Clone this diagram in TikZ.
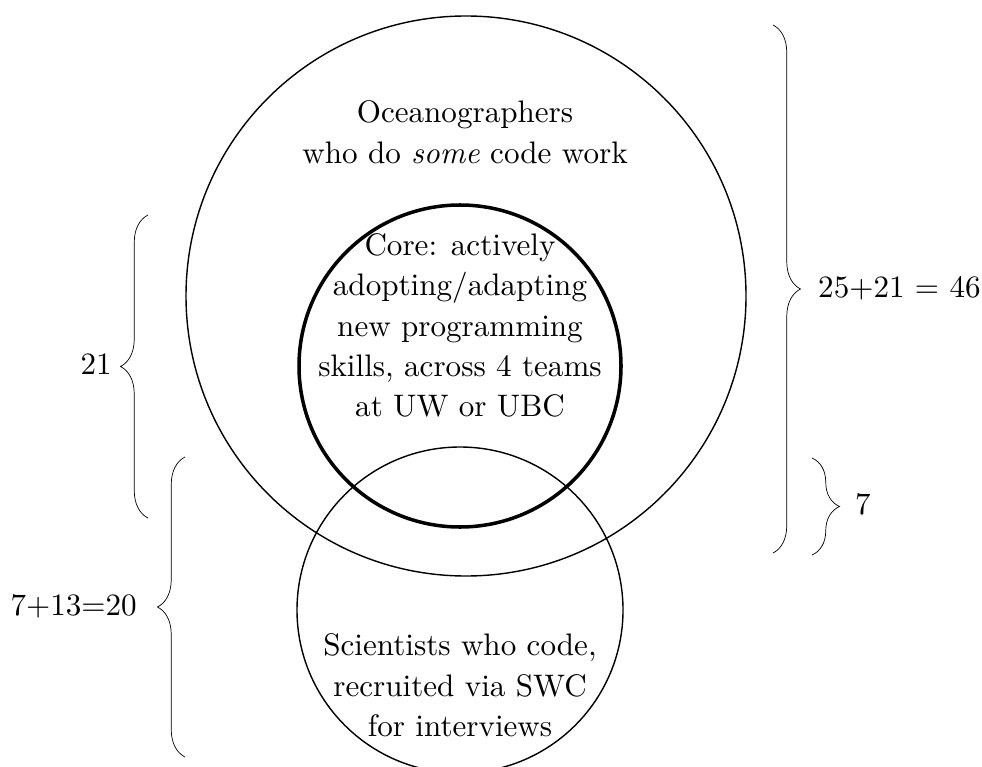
\documentclass[tikz,border=0pt]{standalone}
\usepackage{tikz}
\usetikzlibrary{calc, decorations.pathreplacing}

% text is set at 10pt and blown up
\newcommand{\bigtext}[1]{\scalebox{1.77}{\renewcommand{\arraystretch}{1.075}\begin{tabular}{@{}c@{}}#1\end{tabular}}}

\begin{document}
\begin{tikzpicture}[set/.style={draw, thick, circle, inner sep=0pt},
	core set/.style={set, line width=2pt},
	curly/.style={decorate, decoration={brace, amplitude=0.55cm}}]
	\useasboundingbox (0,0) rectangle (19.64,15.32);

	% the three groups
	\node[set, minimum size=11.2cm] (ocean) at (9.32,9.40) {};
	\node[core set, minimum size=6.44cm] (core) at (9.2,8.0) {};
	\node[set, minimum size=6.52cm] (swc) at (9.2,3.12) {};

	\node (ocean text) at (9.3,12.62) {\bigtext{Oceanographers\\who do \emph{some} code work}};
	\node (core text) at (9.2,8.76) {\bigtext{Core: actively\\adopting/adapting\\new programming\\skills, across 4 teams\\at UW or UBC}};
	\node (swc text) at (9.2,1.56) {\bigtext{Scientists who code,\\recruited via SWC\\for interviews}};

	% braces and counts
	\coordinate (all top) at (15.46,14.82);
	\coordinate (all bot) at (15.46,4.26);
	\coordinate (seven top) at (16.24,6.16);
	\coordinate (seven bot) at (16.24,4.22);
	\coordinate (core top) at (2.96,11.02);
	\coordinate (core bot) at (2.96,4.96);
	\coordinate (swc top) at (3.70,6.18);
	\coordinate (swc bot) at (3.70,0.18);

	\draw[curly] (all top) -- (all bot);
	\draw[curly] (seven top) -- (seven bot);
	\draw[curly] (core bot) -- (core top);
	\draw[curly] (swc bot) -- (swc top);

	\node[anchor=west] (total) at ($(all top)!0.5!(all bot)+(0.78,0)$) {\bigtext{25+21 = 46}};
	\node[anchor=west] (seven) at ($(seven top)!0.5!(seven bot)+(0.74,0)$) {\bigtext{7}};
	\node[anchor=east] (core count) at ($(core top)!0.5!(core bot)+(-0.60,0)$) {\bigtext{21}};
	\node[anchor=east] (swc count) at ($(swc top)!0.5!(swc bot)+(-0.84,0)$) {\bigtext{7+13=20}};
\end{tikzpicture}
\end{document}
